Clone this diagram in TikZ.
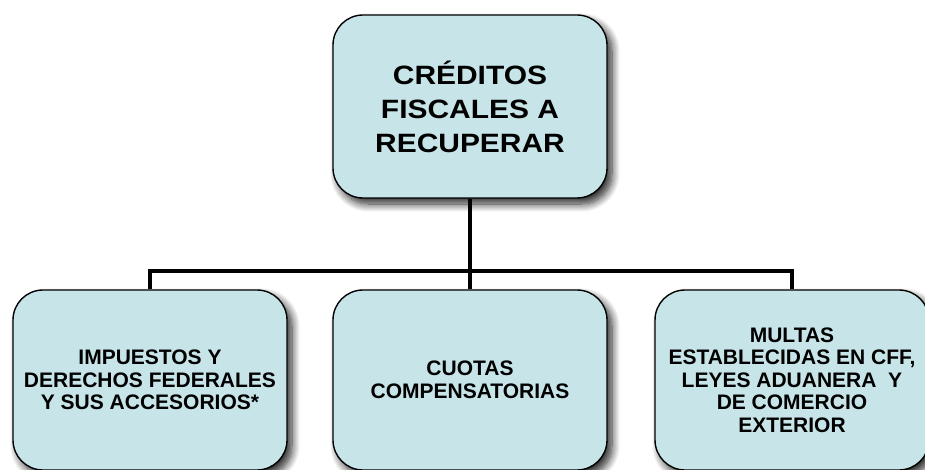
\documentclass[tikz,border=0pt]{standalone}
\usepackage{fontspec}
\setmainfont{Liberation Sans}
\newfontfamily\topfont[FakeStretch=1.13]{Liberation Sans}
\usetikzlibrary{shadows.blur}
\definecolor{boxfill}{RGB}{199,229,233}
\begin{document}
\begin{tikzpicture}[x=1pt,y=-1pt,
  box/.style={draw=black, line width=1.4pt, fill=boxfill, rounded corners=30pt,
    minimum width=274pt, align=center,
    blur shadow={shadow xshift=5pt, shadow yshift=-6pt, shadow blur radius=8pt, shadow blur steps=10, shadow opacity=85}},
  topbox/.style={box, minimum height=183pt, font=\topfont\bfseries\fontsize{26.5}{34}\selectfont},
  subbox/.style={box, minimum height=180pt, font=\bfseries\fontsize{21}{22.5}\selectfont},
  link/.style={draw=black, line width=4pt}]
\useasboundingbox (0,0) rectangle (925,470);
\node[topbox] (top) at (470,106.5) {CRÉDITOS\\FISCALES A\\RECUPERAR};
\node[subbox] (left) at (150,380) {IMPUESTOS Y\\DERECHOS FEDERALES\\Y SUS ACCESORIOS*};
\node[subbox] (mid) at (470,380) {CUOTAS\\COMPENSATORIAS};
\node[subbox] (right) at (792,380) {MULTAS\\ESTABLECIDAS EN CFF,\\LEYES ADUANERA\ \ Y\\DE COMERCIO\\EXTERIOR};
\coordinate (bar) at (470,271);
\draw[link] (top.south) -- (mid.north);
\draw[link] (left.north) |- (bar) -| (right.north);
\end{tikzpicture}
\end{document}
